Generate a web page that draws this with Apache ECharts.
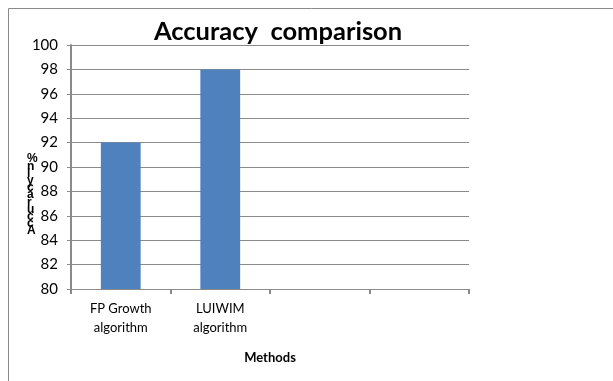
<!DOCTYPE html>
<html><head><meta charset="utf-8">
<script src="https://cdn.jsdelivr.net/npm/echarts@6/dist/echarts.min.js"></script>
<style>html,body{margin:0;padding:0;background:#fff}#c{width:613px;height:381px}</style>
</head><body><div id="c"></div>
<script>
var titleText = "Accuracy  comparison";
var categories = ["FP Growth\nalgorithm", "LUIWIM\nalgorithm", "", ""];
var accuracy = [92, 98, null, null];
var yTicks = [80, 82, 84, 86, 88, 90, 92, 94, 96, 98, 100];
var xName = "Methods";
var yName = "Accuracy in %";

var stacked = yName.split("").reverse().filter(function(c){return c !== " ";}).join("\n");
var chart = echarts.init(document.getElementById('c'));
chart.setOption({
  animation: false,
  backgroundColor: '#fff',
  graphic: [{
    type: 'rect', shape: {x: 8.5, y: 8.5, width: 700, height: 500},
    style: {fill: 'none', stroke: '#8a8a8a', lineWidth: 1}, silent: true
  }, {
    type: 'text', left: 27, top: 153,
    style: {text: stacked, font: 'bold 12px "Liberation Sans"', lineHeight: 7.2, fill: '#000', align: 'center'}
  }],
  title: {
    text: titleText, left: 273, top: 14, textAlign: 'center',
    textStyle: {fontFamily: 'Lato', fontWeight: 'bold', fontSize: 25.5, color: '#000'}
  },
  grid: {left: 71, right: 144, top: 45, bottom: 92},
  xAxis: {
    type: 'category', data: categories,
    name: xName, nameLocation: 'middle', nameGap: 62,
    nameTextStyle: {fontFamily: 'Lato', fontWeight: 'bold', fontSize: 13, color: '#000'},
    axisLine: {lineStyle: {color: '#8a8a8a', width: 1}},
    axisTick: {show: true, length: 5, alignWithLabel: false, lineStyle: {color: '#8a8a8a', width: 2}},
    axisLabel: {fontFamily: 'Lato', fontSize: 13, color: '#000', lineHeight: 19, margin: 10, interval: 0}
  },
  yAxis: {
    type: 'value', min: yTicks[0], max: yTicks[yTicks.length - 1], interval: 2,
    axisLine: {show: true, lineStyle: {color: '#8a8a8a', width: 2}},
    axisTick: {show: true, length: 4, lineStyle: {color: '#8a8a8a'}},
    axisLabel: {fontFamily: 'Lato', fontSize: 15, color: '#000', margin: 13},
    splitLine: {lineStyle: {color: '#8a8a8a', width: 1}}
  },
  series: [{
    type: 'bar', data: accuracy, barWidth: '40%',
    itemStyle: {color: '#4f81bd'}
  }]
});
</script></body></html>
